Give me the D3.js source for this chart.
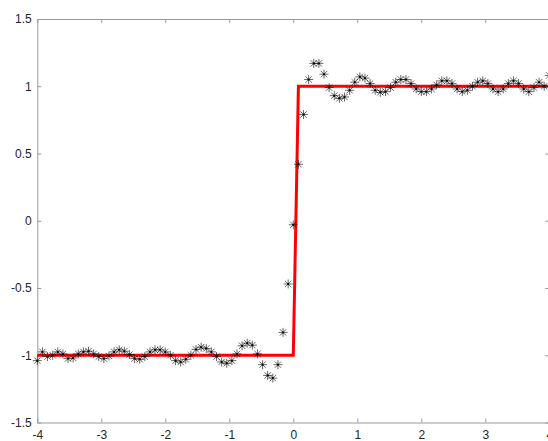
<!DOCTYPE html>
<html>
<head>
<meta charset="utf-8">
<script src="https://cdn.jsdelivr.net/npm/d3@7"></script>
<style>
  html, body { margin: 0; padding: 0; background: #fff; overflow: hidden; }
  svg { display: block; }
  .axis text { font-family: "Liberation Sans", Arial, Helvetica, sans-serif; font-size: 12px; fill: #262626; }
  .axis path, .axis line { stroke: #9a9a9a; }
</style>
</head>
<body>
<svg id="chart" width="548" height="441"></svg>
<script>
// ---- data ----
const xTicks = [-4, -3, -2, -1, 0, 1, 2, 3, 4];
const xTickLabels = ["-4", "-3", "-2", "-1", "0", "1", "2", "3", "4"];
const yTicks = [-1.5, -1, -0.5, 0, 0.5, 1, 1.5];
const yTickLabels = ["-1.5", "-1", "-0.5", "0", "0.5", "1", "1.5"];

// sample positions (every 0.08 from -4 to 4)
const sampleX = [
  -4.00, -3.92, -3.84, -3.76, -3.68, -3.60, -3.52, -3.44, -3.36, -3.28,
  -3.20, -3.12, -3.04, -2.96, -2.88, -2.80, -2.72, -2.64, -2.56, -2.48,
  -2.40, -2.32, -2.24, -2.16, -2.08, -2.00, -1.92, -1.84, -1.76, -1.68,
  -1.60, -1.52, -1.44, -1.36, -1.28, -1.20, -1.12, -1.04, -0.96, -0.88,
  -0.80, -0.72, -0.64, -0.56, -0.48, -0.40, -0.32, -0.24, -0.16, -0.08,
   0.00,  0.08,  0.16,  0.24,  0.32,  0.40,  0.48,  0.56,  0.64,  0.72,
   0.80,  0.88,  0.96,  1.04,  1.12,  1.20,  1.28,  1.36,  1.44,  1.52,
   1.60,  1.68,  1.76,  1.84,  1.92,  2.00,  2.08,  2.16,  2.24,  2.32,
   2.40,  2.48,  2.56,  2.64,  2.72,  2.80,  2.88,  2.96,  3.04,  3.12,
   3.20,  3.28,  3.36,  3.44,  3.52,  3.60,  3.68,  3.76,  3.84,  3.92,
   4.00
];
// measured (noisy / ringing) samples, drawn as stars
const sampleY = [
  -1.04, -0.975, -1.01, -1.00, -0.975, -0.99, -1.025, -1.02, -0.99, -0.975,
  -0.97, -0.99, -1.01, -1.025, -1.005, -0.975, -0.96, -0.97, -0.995, -1.025,
  -1.03, -1.01, -0.975, -0.96, -0.96, -0.975, -1.00, -1.04, -1.05, -1.03,
  -1.00, -0.957, -0.94, -0.95, -0.975, -1.01, -1.05, -1.06, -1.04, -0.99,
  -0.93, -0.91, -0.925, -0.99, -1.07, -1.15, -1.17, -1.07, -0.83, -0.47,
  -0.03, 0.42, 0.79, 1.05, 1.17, 1.17, 1.09, 0.99, 0.93, 0.91,
   0.92, 0.97, 1.03, 1.07, 1.06, 1.02, 0.97, 0.955, 0.96, 0.99,
   1.03, 1.05, 1.05, 1.02, 0.98, 0.96, 0.96, 0.98, 1.01, 1.04,
   1.04, 1.02, 0.98, 0.96, 0.97, 1.00, 1.03, 1.04, 1.02, 0.98,
   0.96, 0.98, 1.02, 1.04, 1.02, 0.98, 0.96, 0.99, 1.03, 1.00,
   1.08
];
// ideal step signal (red line)
const stepX = [-4, 0, 0.08, 4];
const stepY = [-1, -1, 1, 1];

// ---- layout ----
const svg = d3.select("#chart");
const x = d3.scaleLinear().domain([-4, 4]).range([37.3, 549.3]);
const y = d3.scaleLinear().domain([-1.5, 1.5]).range([422.5, 19]);

// axes
const fmt = (arr, labels) => (d) => labels[arr.indexOf(d)];

svg.append("g").attr("class", "axis")
  .attr("transform", `translate(0,${y(-1.5)})`)
  .call(d3.axisBottom(x).tickValues(xTicks).tickFormat(fmt(xTicks, xTickLabels))
        .tickSizeInner(-4).tickSizeOuter(0).tickPadding(8));

svg.append("g").attr("class", "axis")
  .attr("transform", `translate(0,${y(1.5)})`)
  .call(d3.axisTop(x).tickValues(xTicks).tickFormat("")
        .tickSizeInner(-4).tickSizeOuter(0));

svg.append("g").attr("class", "axis")
  .attr("transform", `translate(${x(-4)},0)`)
  .call(d3.axisLeft(y).tickValues(yTicks).tickFormat(fmt(yTicks, yTickLabels))
        .tickSizeInner(-4).tickSizeOuter(0).tickPadding(5.5));

svg.append("g").attr("class", "axis")
  .attr("transform", `translate(${x(4)},0)`)
  .call(d3.axisRight(y).tickValues(yTicks).tickFormat("")
        .tickSizeInner(-4).tickSizeOuter(0));

svg.selectAll(".axis .domain").attr("stroke", "#9a9a9a");

// red step line
const stepData = stepX.map((v, i) => [v, stepY[i]]);
svg.append("path")
  .datum(stepData)
  .attr("fill", "none")
  .attr("stroke", "#ff0000")
  .attr("stroke-width", 3)
  .attr("d", d3.line().x(d => x(d[0])).y(d => y(d[1])));

// star markers
const r = 4.5, rd = r * 0.7071;
const starPath = `M${-r},0L${r},0M0,${-r}L0,${r}M${-rd},${-rd}L${rd},${rd}M${-rd},${rd}L${rd},${-rd}`;
const pts = sampleX.map((v, i) => [v, sampleY[i]]);
const g = svg.append("g");
g.selectAll("path.star").data(pts).join("path")
  .attr("class", "star")
  .attr("transform", d => `translate(${x(d[0])},${y(d[1])})`)
  .attr("d", starPath)
  .attr("fill", "none")
  .attr("stroke", "#000")
  .attr("stroke-width", 0.6);
g.selectAll("circle.c").data(pts).join("circle")
  .attr("class", "c")
  .attr("cx", d => x(d[0]))
  .attr("cy", d => y(d[1]))
  .attr("r", 1)
  .attr("fill", "#000");
</script>
</body>
</html>
